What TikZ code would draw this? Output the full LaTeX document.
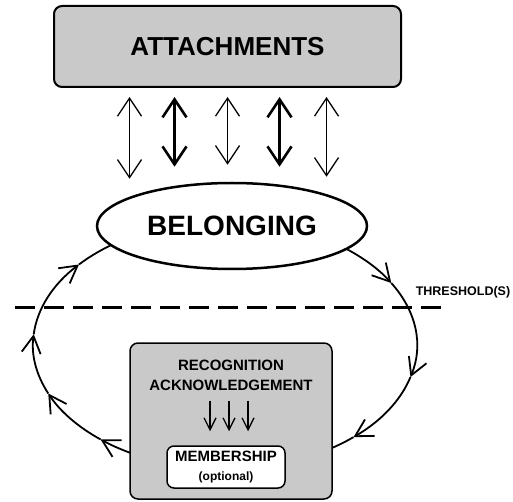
\documentclass[tikz,border=0pt]{standalone}
\usepackage{fontspec}
\setmainfont{Liberation Sans}
\usetikzlibrary{arrows.meta,calc,shapes.geometric,positioning}

\definecolor{boxgray}{RGB}{201,201,201}

\begin{document}
\begin{tikzpicture}
        [x=1pt,y=1pt,
         >={Straight Barb[length=18pt,width=24pt]},
         graybox/.style={draw,rounded corners=8pt,fill=boxgray},
         loopline/.style={line width=1.8pt},
         looptip/.style={-{Straight Barb[length=17pt,width=19pt]}},
         loopdash/.style={dash pattern=on 7pt off 5pt}]
        \useasboundingbox (0,0) rectangle (513,-502);

        \node[graybox,line width=2pt,minimum width=347pt,minimum height=81pt,
              font=\fontsize{26}{30}\selectfont\bfseries] (attach) at (227.5,-46.5) {ATTACHMENTS};

        % the loop round belonging
        \coordinate (loopc) at (225,-345);
        \draw[loopline] ($(loopc)+(55:192pt and 124pt)$) arc[start angle=55,end angle=50,x radius=192pt,y radius=124pt];
        \foreach \a/\b in {50/30,30/-15,-15/-48}
        {\draw[loopline,looptip] ($(loopc)+(\a:192pt and 124pt)$) arc[start angle=\a,end angle=\b,x radius=192pt,y radius=124pt];}
        \draw[loopline] ($(loopc)+(-48:192pt and 124pt)$) arc[start angle=-48,end angle=-57.6,x radius=192pt,y radius=124pt];
        \draw[loopline,loopdash,looptip] ($(loopc)+(-57.6:192pt and 124pt)$) arc[start angle=-57.6,end angle=-71,x radius=192pt,y radius=124pt];

        \draw[loopline,loopdash] ($(loopc)+(251:192pt and 124pt)$) arc[start angle=251,end angle=241,x radius=192pt,y radius=124pt];
        \foreach \a/\b in {241/229.6,229.6/203,203/175,175/139.5}
        {\draw[loopline,looptip] ($(loopc)+(\a:192pt and 124pt)$) arc[start angle=\a,end angle=\b,x radius=192pt,y radius=124pt];}
        \draw[loopline] ($(loopc)+(139.5:192pt and 124pt)$) arc[start angle=139.5,end angle=123,x radius=192pt,y radius=124pt];

        \node[draw,ellipse,fill=white,line width=2.5pt,minimum width=270pt,minimum height=86pt,inner sep=0pt,
              font=\fontsize{28}{32}\selectfont\bfseries] (belong) at (232,-226) {BELONGING};

        \foreach \x/\g/\w in {-98/3/1.3,-53/15/2.6,0/17/1.3,52/15/2.6,99/5/1.3}
        {\draw[line width=\w pt,<->] ($(attach.south)+(\x pt,-9pt)$) -- ($(attach.south |- belong.north)+(\x pt,\g pt)$);}

        % threshold
        \coordinate (thl) at (15,-307);
        \coordinate (thr) at (448,-307);
        \draw[line width=3pt,dash pattern=on 20pt off 9pt] (thl) -- (thr);
        \node[font=\fontsize{12.5}{15}\selectfont\bfseries] (thlabel) at (463,-292) {THRESHOLD(S)};

        % recognition
        \node[graybox,line width=1.5pt,minimum width=202pt,minimum height=156pt] (recog) at (231,-421) {};
        \node[font=\fontsize{15}{20}\selectfont\bfseries,align=center] (recogtxt) at (231,-375) {RECOGNITION\\ACKNOWLEDGEMENT};
        \node[draw,rounded corners=7pt,fill=white,line width=1.5pt,minimum width=118pt,minimum height=42pt,
              inner sep=1pt,align=center,font=\fontsize{15}{19}\selectfont\bfseries] (member) at (226,-467)
              {MEMBERSHIP\\{\fontsize{12}{14}\selectfont (optional)}};

        \foreach \x in {-21,-2,17}
        {\draw[line width=1.3pt,-{Straight Barb[length=12pt,width=12pt]}] ($(recogtxt.south)+(\x pt,-7pt)$) -- ($(recogtxt.south |- member.north)+(\x pt,14pt)$);}
\end{tikzpicture}
\end{document}
